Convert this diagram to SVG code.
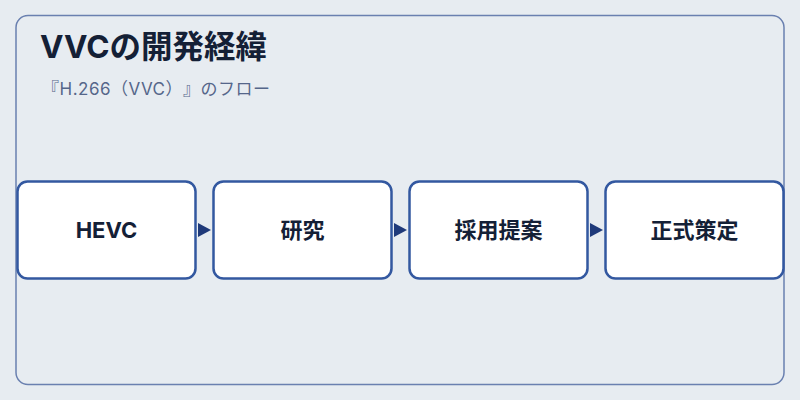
<svg xmlns="http://www.w3.org/2000/svg" width="800" height="400" viewBox="0 0 800 400">
<defs>
<marker id="arr" markerWidth="13" markerHeight="14" refX="13" refY="7" orient="auto" markerUnits="userSpaceOnUse">
<path d="M0,0 L13,7 L0,14 Z" fill="#1f3a7a"/>
</marker>
<style>
text{text-spacing-trim:space-all}
.node rect{fill:#ffffff;stroke:#3358a0;stroke-width:2.5}
.node text{font-family:Inter,"Noto Sans CJK JP",sans-serif;font-weight:700;font-size:22px;fill:#142036;text-anchor:middle}
.conn{stroke:#1f3a7a;stroke-width:2;fill:none}
</style>
</defs>
<rect width="800" height="400" fill="#e7ecf1"/>
<rect x="16" y="15.5" width="768" height="369" rx="12" fill="#e7ecf1" stroke="#6a80b0" stroke-width="1.5"/>
<text x="40" y="58" font-family="Inter,'Noto Sans CJK JP',sans-serif" font-weight="700" font-size="31.5" fill="#142036">VVCの開発経緯</text>
<text x="42" y="95" font-family="Inter,'Noto Sans CJK JP',sans-serif" font-size="17" letter-spacing="0.5" fill="#55668a">『H.266（VVC）』のフロー</text>
<g id="connectors">
<line class="conn" x1="197" y1="230" x2="211" y2="230" marker-end="url(#arr)" stroke-opacity="0"/>
<line class="conn" x1="393" y1="230" x2="407" y2="230" marker-end="url(#arr)" stroke-opacity="0"/>
<line class="conn" x1="589" y1="230" x2="603" y2="230" marker-end="url(#arr)" stroke-opacity="0"/>
</g>
<g id="node-hevc" class="node"><rect x="17.5" y="181.5" width="178" height="97" rx="10"/><text x="106.5" y="238">HEVC</text></g>
<g id="node-research" class="node"><rect x="213.5" y="181.5" width="178" height="97" rx="10"/><text x="302.5" y="238">研究</text></g>
<g id="node-proposal" class="node"><rect x="409.5" y="181.5" width="178" height="97" rx="10"/><text x="498.5" y="238">採用提案</text></g>
<g id="node-standard" class="node"><rect x="605.5" y="181.5" width="178" height="97" rx="10"/><text x="694.5" y="238">正式策定</text></g>
</svg>
